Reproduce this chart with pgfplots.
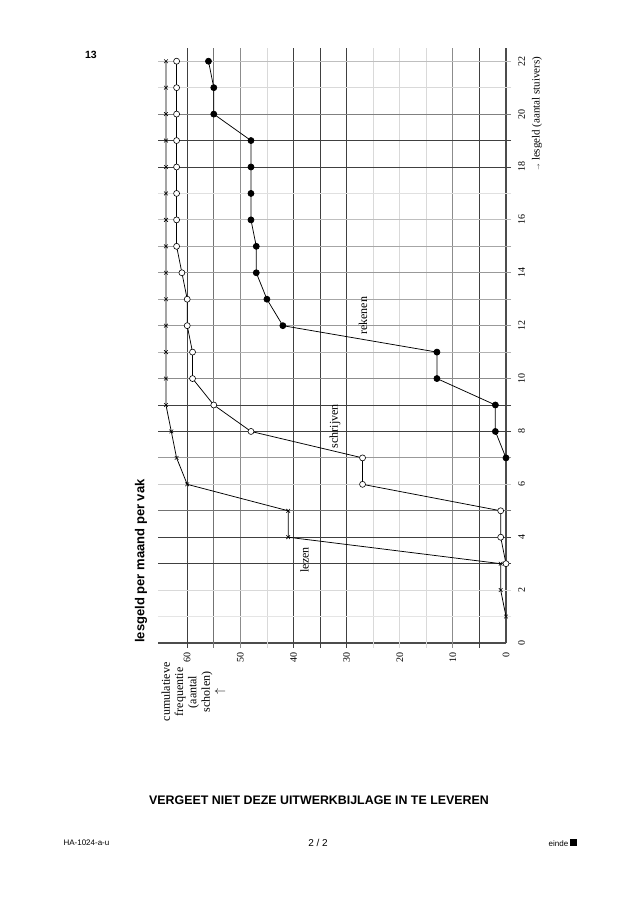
\documentclass[border=0pt]{standalone}
\usepackage{pgfplots}
\pgfplotsset{compat=1.18}
\usepackage{fontspec}
\setmainfont{Liberation Serif}
\setsansfont{Liberation Sans}
\begin{document}
\begin{tikzpicture}[x=1pt,y=1pt]
\path[fill=white] (0,0) rectangle (636,900);
% page texts
\node[font=\sffamily\bfseries\fontsize{10.5}{12}\selectfont] at (91,845) {13};
\node[font=\sffamily\bfseries\fontsize{12.4}{14}\selectfont] at (319,100) {VERGEET NIET DEZE UITWERKBIJLAGE IN TE LEVEREN};
\node[font=\sffamily\fontsize{8}{10}\selectfont, anchor=west] at (60,57) {HA-1024-a-u};
\node[font=\sffamily\fontsize{10}{12}\selectfont] at (318,57) {2 / 2};
\node[font=\sffamily\fontsize{8}{10}\selectfont, anchor=east] at (581,57) {einde \rule{7pt}{7pt}};
% axis descriptions (rotated)
\node[rotate=90, font=\sffamily\bfseries\fontsize{13}{15}\selectfont] at (141,339) {lesgeld per maand per vak};
\node[rotate=90, align=center, font=\fontsize{12}{13.3}\selectfont] at (193.5,208) {cumulatieve\\frequentie\\(aantal\\scholen)\\$\uparrow$};
\node[rotate=90, anchor=east, font=\fontsize{11}{13}\selectfont] at (537,847) {{\tiny$\rightarrow$} lesgeld (aantal stuivers)};
\begin{axis}[
  at={(506pt,257pt)}, anchor=origin,
  scale only axis, width=348pt, height=595pt,
  x dir=reverse,
  xmin=0, xmax=65.5, ymin=0, ymax=22.5,
  axis x line=bottom, axis y line=right,
  axis line style={-, black!70, line width=1.2pt},
  xtick={0,10,...,60}, ytick={0,2,...,22},
  tick style={draw=none},
  /pgf/number format/assume math mode=true,
  xticklabel style={rotate=90, anchor=east, font=\fontsize{10}{12}\selectfont},
  yticklabel style={rotate=90, anchor=north, font=\fontsize{10}{12}\selectfont},
  xticklabel shift=3.5pt, yticklabel shift=6.5pt,
  clip=false,
]
% vertical grid lines (constant frequency)
\draw[black!75, line width=0.8pt] (axis cs:5,-0.18) -- (axis cs:5,22.5);
\draw[black!45, line width=0.8pt] (axis cs:10,-0.18) -- (axis cs:10,22.5);
\draw[black!15, line width=0.8pt] (axis cs:15,-0.18) -- (axis cs:15,22.5);
\draw[black!15, line width=0.8pt] (axis cs:20,-0.18) -- (axis cs:20,22.5);
\draw[black!15, line width=0.8pt] (axis cs:25,-0.18) -- (axis cs:25,22.5);
\draw[black!75, line width=0.8pt] (axis cs:30,-0.18) -- (axis cs:30,22.5);
\draw[black!75, line width=0.8pt] (axis cs:35,-0.18) -- (axis cs:35,22.5);
\draw[black!75, line width=0.8pt] (axis cs:40,-0.18) -- (axis cs:40,22.5);
\draw[black!15, line width=0.8pt] (axis cs:45,-0.18) -- (axis cs:45,22.5);
\draw[black!45, line width=0.8pt] (axis cs:50,-0.18) -- (axis cs:50,22.5);
\draw[black!55, line width=0.8pt] (axis cs:55,-0.18) -- (axis cs:55,22.5);
\draw[black!75, line width=0.8pt] (axis cs:60,-0.18) -- (axis cs:60,22.5);
% horizontal grid lines (constant lesgeld)
\draw[black!10, line width=0.8pt] (axis cs:-0.95,1) -- (axis cs:65.5,1);
\draw[black!15, line width=0.8pt] (axis cs:-0.95,2) -- (axis cs:65.5,2);
\draw[black!75, line width=0.8pt] (axis cs:-0.95,3) -- (axis cs:65.5,3);
\draw[black!75, line width=0.8pt] (axis cs:-0.95,4) -- (axis cs:65.5,4);
\draw[black!55, line width=0.8pt] (axis cs:-0.95,5) -- (axis cs:65.5,5);
\draw[black!20, line width=0.8pt] (axis cs:-0.95,6) -- (axis cs:65.5,6);
\draw[black!40, line width=0.8pt] (axis cs:-0.95,7) -- (axis cs:65.5,7);
\draw[black!75, line width=0.8pt] (axis cs:-0.95,8) -- (axis cs:65.5,8);
\draw[black!75, line width=0.8pt] (axis cs:-0.95,9) -- (axis cs:65.5,9);
\draw[black!45, line width=0.8pt] (axis cs:-0.95,10) -- (axis cs:65.5,10);
\draw[black!30, line width=0.8pt] (axis cs:-0.95,11) -- (axis cs:65.5,11);
\draw[black!40, line width=0.8pt] (axis cs:-0.95,12) -- (axis cs:65.5,12);
\draw[black!35, line width=0.8pt] (axis cs:-0.95,13) -- (axis cs:65.5,13);
\draw[black!40, line width=0.8pt] (axis cs:-0.95,14) -- (axis cs:65.5,14);
\draw[black!35, line width=0.8pt] (axis cs:-0.95,15) -- (axis cs:65.5,15);
\draw[black!25, line width=0.8pt] (axis cs:-0.95,16) -- (axis cs:65.5,16);
\draw[black!12, line width=0.8pt] (axis cs:-0.95,17) -- (axis cs:65.5,17);
\draw[black!75, line width=0.8pt] (axis cs:-0.95,18) -- (axis cs:65.5,18);
\draw[black!75, line width=0.8pt] (axis cs:-0.95,19) -- (axis cs:65.5,19);
\draw[black!50, line width=0.8pt] (axis cs:-0.95,20) -- (axis cs:65.5,20);
\draw[black!15, line width=0.8pt] (axis cs:-0.95,21) -- (axis cs:65.5,21);
\draw[black!25, line width=0.8pt] (axis cs:-0.95,22) -- (axis cs:65.5,22);
% lezen
\addplot[black, line width=0.75pt, mark=x, mark size=2.6pt, mark options={line width=0.6pt}] coordinates {
(0,1) (1,2) (1,3) (41,4) (41,5) (60,6) (62,7) (63,8) (64,9) (64,10) (64,11) (64,12) (64,13) (64,14) (64,15) (64,16) (64,17) (64,18) (64,19) (64,20) (64,21) (64,22)};
% schrijven
\addplot[black, line width=0.75pt, mark=*, mark size=3pt, mark options={fill=white, line width=0.6pt}] coordinates {
(0,3) (1,4) (1,5) (27,6) (27,7) (48,8) (55,9) (59,10) (59,11) (60,12) (60,13) (61,14) (62,15) (62,16) (62,17) (62,18) (62,19) (62,20) (62,21) (62,22)};
% rekenen
\addplot[black, line width=0.75pt, mark=*, mark size=3pt, mark options={fill=black}] coordinates {
(0,7) (2,8) (2,9) (13,10) (13,11) (42,12) (45,13) (47,14) (47,15) (48,16) (48,17) (48,18) (48,19) (55,20) (55,21) (56,22)};
\node[rotate=90, font=\fontsize{12}{14}\selectfont] at (axis cs:37.9,3.15) {lezen};
\node[rotate=90, font=\fontsize{12}{14}\selectfont] at (axis cs:32.2,8.2) {schrijven};
\node[rotate=90, font=\fontsize{12}{14}\selectfont] at (axis cs:26.9,12.37) {rekenen};
\end{axis}
\end{tikzpicture}
\end{document}
